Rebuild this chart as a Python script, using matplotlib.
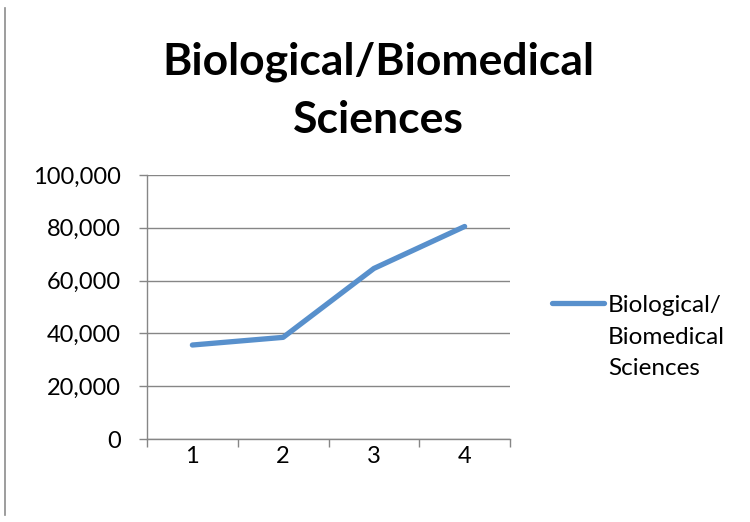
import matplotlib
matplotlib.use("Agg")
import matplotlib.pyplot as plt
from matplotlib.lines import Line2D
from matplotlib.ticker import FuncFormatter, FixedLocator

categories = ["1", "2", "3", "4"]
values = [35600, 38500, 64600, 80500]
series_name = "Biological/\nBiomedical\nSciences"
title = "Biological/Biomedical\nSciences"

plt.rcParams['font.family'] = ['Lato', 'DejaVu Sans']
color = "#5890CC"
grid_c = "#868686"

fig = plt.figure(figsize=(7.5, 5.22), dpi=100)
ax = fig.add_axes([147/750, 1-439/522, (510-147)/750, (439-175)/522])

xs = list(range(1, len(categories)+1))
ax.plot(xs, values, color=color, lw=3.8, solid_capstyle='round')
ax.set_xlim(0.5, len(categories)+0.5)
ax.set_ylim(0, 100000)
ax.set_yticks(range(0, 100001, 20000))
ax.yaxis.set_major_formatter(FuncFormatter(lambda v, p: f"{int(v):,}"))
ax.set_xticks(xs)
ax.set_xticklabels(categories)
ax.xaxis.set_minor_locator(FixedLocator([i + 0.5 for i in range(0, len(categories)+1)]))
ax.tick_params(axis='x', which='major', length=0, pad=5, labelsize=17)
ax.tick_params(axis='x', which='minor', length=6, width=1, color=grid_c, direction='out')
ax.tick_params(axis='y', length=6, width=1, color=grid_c, direction='out', pad=13, labelsize=17)
ax.grid(axis='y', color=grid_c, lw=1)
ax.set_axisbelow(True)
for s in ['top', 'right']:
    ax.spines[s].set_visible(False)
for s in ['left', 'bottom']:
    ax.spines[s].set_color(grid_c)
    ax.spines[s].set_linewidth(1)

fig.text(378/750, 1-91/522, title, ha='center', va='center', fontsize=32, fontweight='bold', linespacing=1.55)

# legend
fig.add_artist(Line2D([552/750, 604/750], [1-303/522, 1-303/522], color=color, lw=3.8, solid_capstyle='round'))
fig.text(608/750, 1-337/522, series_name, ha='left', va='center', fontsize=17.5, linespacing=1.6)

# left border line
fig.add_artist(Line2D([5/750, 5/750], [1-8/522, 1-515/522], color="#8c8c8c", lw=1.2))

fig.savefig("out.png", dpi=100, facecolor='white')
